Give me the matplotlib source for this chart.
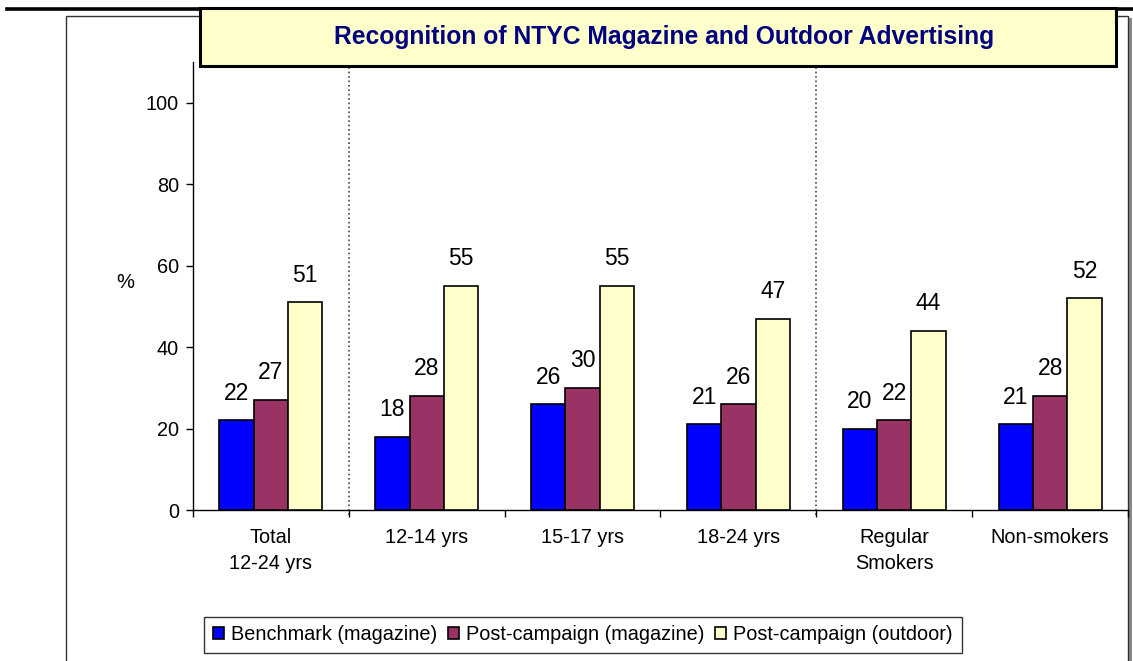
import numpy as np
import matplotlib.pyplot as plt
from matplotlib.patches import Rectangle
from matplotlib.lines import Line2D

plt.rcParams['font.family'] = ['Liberation Sans', 'DejaVu Sans']

# Dane
categories = ['Total\n12-24 yrs', '12-14 yrs', '15-17 yrs', '18-24 yrs',
              'Regular\nSmokers', 'Non-smokers']
benchmark = [22, 18, 26, 21, 20, 21]
post_magazine = [27, 28, 30, 26, 22, 28]
post_outdoor = [51, 55, 55, 47, 44, 52]
series_names = ['Benchmark (magazine)', 'Post-campaign (magazine)',
                'Post-campaign (outdoor)']
colors = ['#0000FF', '#993366', '#FFFFCC']
title = 'Recognition of NTYC Magazine and Outdoor Advertising'

W, H = 1133, 661


def fx(px):
    return px / W


def fy(py):
    return 1 - py / H


fig = plt.figure(figsize=(W / 100, H / 100), dpi=100)

# Ramka zewnetrzna i gruba linia u gory
fig.add_artist(Line2D([fx(7), fx(1133)], [fy(9), fy(9)], color='black', lw=2.6,
                      zorder=-3))
fig.add_artist(Rectangle((fx(1128), fy(700)), fx(4), fy(18) - fy(700),
                         facecolor='#888888', edgecolor='none', zorder=-6))
fig.add_artist(Rectangle((fx(66), fy(700)), fx(1128) - fx(66), fy(16) - fy(700),
                         facecolor='white', edgecolor='#333333', lw=1.0,
                         zorder=-5))

ax = fig.add_axes([fx(193), fy(510), fx(1128) - fx(193), fy(62) - fy(510)])
ax.set_facecolor('none')

x = np.arange(len(categories))
w = 0.22
all_series = [benchmark, post_magazine, post_outdoor]
for i, vals in enumerate(all_series):
    bars = ax.bar(x + (i - 1) * w, vals, w, color=colors[i], edgecolor='black',
                  linewidth=1.2, label=series_names[i], zorder=3)
    for b, v in zip(bars, vals):
        ax.annotate(str(v), (b.get_x() + b.get_width() / 2, v),
                    xytext=(0, 19.5), textcoords='offset points',
                    ha='center', va='center', fontsize=16.5)

ax.set_xlim(-0.5, len(categories) - 0.5)
ax.set_ylim(0, 110)
ax.set_yticks([0, 20, 40, 60, 80, 100])
ax.set_xticks(x)
ax.set_xticklabels(categories, fontsize=14.3, linespacing=1.45)
ax.set_xticks(np.arange(len(categories) + 1) - 0.5, minor=True)
ax.tick_params(axis='x', which='major', length=0, pad=13)
ax.tick_params(axis='x', which='minor', length=5, width=1, direction='out')
ax.tick_params(axis='y', labelsize=14.3, length=5, width=1, pad=5)
for s in ['top', 'right']:
    ax.spines[s].set_visible(False)
ax.spines['left'].set_linewidth(1)
ax.spines['bottom'].set_linewidth(1)

# Linie podzialu grup
for d in [0.5, 3.5]:
    ax.axvline(d, color='#444444', linestyle=':', lw=1.2, ymin=-0.012,
               clip_on=False, zorder=1)

fig.text(fx(125), fy(283), '%', fontsize=14.5, ha='center', va='center')

# Tytul w ramce
fig.add_artist(Rectangle((fx(200), fy(66)), fx(1116) - fx(200), fy(8) - fy(66),
                         facecolor='#FFFFCC', edgecolor='black', lw=2.2, zorder=10))
fig.text(fx(664), fy(37), title, fontsize=17.7, fontweight='bold',
         color='#000080', ha='center', va='center', zorder=11)

leg = fig.legend(loc='center', bbox_to_anchor=(fx(583), fy(635)), ncol=3,
                 fontsize=14.3, frameon=True, fancybox=False, handlelength=0.55,
                 handleheight=0.55, handletextpad=0.35, columnspacing=0.55,
                 borderpad=0.45, edgecolor='black')
leg.get_frame().set_linewidth(1)

fig.savefig('out.png', dpi=100)
